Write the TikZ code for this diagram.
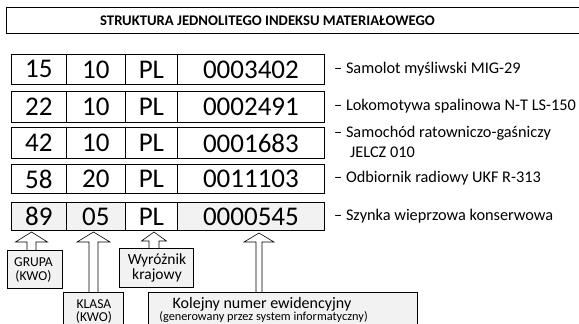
\documentclass[tikz,border=0pt]{standalone}
\usepackage{fontspec}
\setmainfont{Carlito}
\definecolor{cellgray}{HTML}{F2F2F2}
\tikzset{
  cell/.style={draw=black, line width=0.8pt, inner sep=0pt, anchor=north west,
    font=\fontsize{27}{27}\selectfont},
  desc/.style={anchor=west, inner sep=0pt, font=\fontsize{16.3}{19}\selectfont},
  callbox/.style={draw=black, line width=0.6pt, fill=cellgray, inner sep=0pt, anchor=north west},
  calltext/.style={anchor=base, inner sep=0pt},
  blockarrow/.style={draw=black, line width=0.6pt, fill=white, line join=miter},
}
% up-pointing block arrow: centre x, tip y, head base y, shaft end y, head half width, shaft half width
\newcommand{\uparrowshape}[6]{%
  \draw[blockarrow] (#1,#2) -- (#1+#5,#3) -- (#1+#6,#3) -- (#1+#6,#4)
    -- (#1-#6,#4) -- (#1-#6,#3) -- (#1-#5,#3) -- cycle;}
% one row of the index: name prefix, top y, height, group, class, number, description
\newcommand{\indexrow}[7]{%
  \node[cell, minimum width=55pt, minimum height=#3pt] (#1a) at (11,#2) {#4};
  \node[cell, minimum width=59pt, minimum height=#3pt] (#1b) at (66,#2) {#5};
  \node[cell, minimum width=52pt, minimum height=#3pt] (#1c) at (125,#2) {PL};
  \node[cell, minimum width=147pt, minimum height=#3pt] (#1d) at (177,#2) {#6};
  \node[desc] (#1t) at (334,#2+#3/2) {#7};}
\begin{document}
\begin{tikzpicture}[x=1pt, y=-1pt]
\useasboundingbox[fill=white] (0,0) rectangle (579,324);

% title bar
\node[draw=black, line width=0.8pt, minimum width=575pt, minimum height=26pt, inner sep=0pt,
  anchor=north west] (title) at (6,7) {};
\node[inner sep=0pt, font=\fontsize{14.7}{16}\selectfont\bfseries] (titletext) at (267.5,20.5)
  {STRUKTURA JEDNOLITEGO INDEKSU MATERIAŁOWEGO};

% example indices
\indexrow{r1}{54}{30}{15}{10}{0003402}{– Samolot myśliwski MIG-29}
\indexrow{r2}{91}{31}{22}{10}{0002491}{– Lokomotywa spalinowa N-T LS-150}
\node[cell, minimum width=55pt, minimum height=31pt] (r3a) at (11,127) {42};
\node[cell, minimum width=59pt, minimum height=31pt] (r3b) at (66,127) {10};
\node[cell, minimum width=52pt, minimum height=31pt] (r3c) at (125,127) {PL};
\node[cell, minimum width=147pt, minimum height=31pt] (r3d) at (177,127) {0001683};
\node[desc] (r3t) at (334,133) {– Samochód ratowniczo-gaśniczy};
\node[desc] (r3u) at (350,152.5) {JELCZ 010};
\indexrow{r4}{164}{29}{58}{20}{0011103}{– Odbiornik radiowy UKF R-313}

% highlighted index
\node[cell, fill=cellgray, minimum width=55pt, minimum height=28pt] (r5a) at (11,202) {89};
\node[cell, fill=cellgray, minimum width=59pt, minimum height=28pt] (r5b) at (66,202) {05};
\node[cell, fill=white, minimum width=52pt, minimum height=28pt] (r5c) at (125,202) {PL};
\node[cell, fill=cellgray, minimum width=147pt, minimum height=28pt] (r5d) at (177,202) {0000545};
\node[desc] (r5t) at (334,216) {– Szynka wieprzowa konserwowa};

% group callout
\uparrowshape{31.5}{232}{242}{250.5}{16}{4.5}
\node[callbox, minimum width=55pt, minimum height=38pt] (grupa) at (7,250) {};
\node[calltext, font=\fontsize{13.6}{14}\selectfont] (grupa1) at (33.5,266) {GRUPA};
\node[calltext, font=\fontsize{13.6}{14}\selectfont] (grupa2) at (33.5,280) {(KWO)};

% class callout
\uparrowshape{93.5}{232}{242}{292.5}{16.5}{4.5}
\node[callbox, minimum width=60pt, minimum height=34pt] (klasa) at (63,292) {};
\node[calltext, font=\fontsize{13.6}{14}\selectfont] (klasa1) at (94,308) {KLASA};
\node[calltext, font=\fontsize{13.6}{14}\selectfont] (klasa2) at (94,321) {(KWO)};

% country code callout
\uparrowshape{154}{232}{241}{248.5}{12.5}{5}
\node[callbox, minimum width=74pt, minimum height=39pt] (kraj) at (119,248) {};
\node[calltext, font=\fontsize{15.5}{16}\selectfont] (kraj1) at (157,264) {Wyróżnik};
\node[calltext, font=\fontsize{15.5}{16}\selectfont] (kraj2) at (157,279) {krajowy};

% serial number callout
\uparrowshape{259}{233}{242}{292.5}{15}{3}
\node[callbox, minimum width=269pt, minimum height=34pt] (numer) at (148,292) {};
\node[calltext, font=\fontsize{16}{16}\selectfont] (numer1) at (262,308) {Kolejny numer ewidencyjny};
\node[calltext, font=\fontsize{12.3}{13}\selectfont] (numer2) at (263.5,320)
  {(generowany przez system informatyczny)};
\end{tikzpicture}
\end{document}
